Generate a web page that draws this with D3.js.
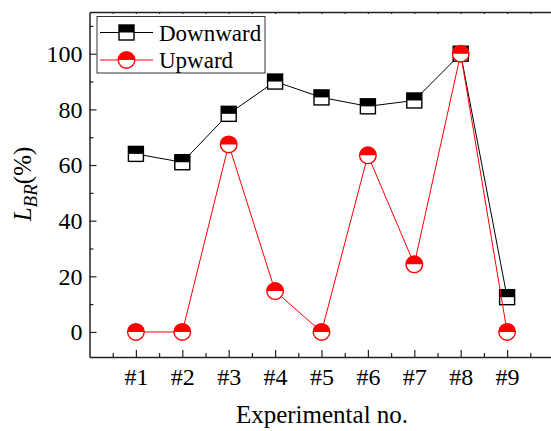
<!DOCTYPE html>
<html><head><meta charset="utf-8">
<script src="https://cdn.jsdelivr.net/npm/d3@7"></script>
<style>body{margin:0;background:#fff}svg{display:block}</style>
</head><body>
<svg id="c" width="551" height="431"></svg>
<script>
const categories = ["#1","#2","#3","#4","#5","#6","#7","#8","#9"];
const downward = [64, 61, 78.4, 90, 84.3, 81.1, 83.2, 100, 12.5];
const upward = [0, 0, 67.4, 14.7, 0, 63.5, 24.3, 100, 0];
const yTicks = [0, 20, 40, 60, 80, 100];
const yMinor = [10, 30, 50, 70, 90, 110];
const seriesNames = ["Downward", "Upward"];

const svg = d3.select("#c");
const L = 89.5, R = 553.5, T = 12, B = 357;
const x = d3.scaleLinear().domain([-1, 9]).range([L, R]);
const y = d3.scaleLinear().domain([-9, 115]).range([B, T]);
const axisColor = "#222";
const serif = "Liberation Serif, Times New Roman, serif";

const xMinor = d3.range(-0.5, 9, 1);
const gx = svg.append("g").attr("transform", `translate(0,${B})`)
  .call(d3.axisBottom(x).tickValues(d3.range(0, 9)).tickFormat(i => categories[i])
    .tickSizeInner(-7).tickSizeOuter(0).tickPadding(11));
svg.append("g").attr("transform", `translate(0,${B})`)
  .call(d3.axisBottom(x).tickValues(xMinor).tickFormat("").tickSizeInner(-4).tickSizeOuter(0))
  .select(".domain").remove();

const gy = svg.append("g").attr("transform", `translate(${L},0)`)
  .call(d3.axisLeft(y).tickValues(yTicks).tickSizeInner(-7).tickSizeOuter(0).tickPadding(7));
svg.append("g").attr("transform", `translate(${L},0)`)
  .call(d3.axisLeft(y).tickValues(yMinor).tickFormat("").tickSizeInner(-4).tickSizeOuter(0))
  .select(".domain").remove();

svg.append("g").attr("transform", `translate(0,${T})`)
  .call(d3.axisTop(x).tickValues(d3.range(-0.5, 9, 0.5)).tickFormat("").tickSizeInner(-2).tickSizeOuter(0));
svg.append("g").attr("transform", `translate(${R},0)`)
  .call(d3.axisRight(y).tickValues(yTicks).tickFormat("").tickSizeInner(-2).tickSizeOuter(0));

svg.selectAll(".domain").attr("stroke", axisColor).attr("stroke-width", 1.5);
svg.selectAll(".tick line").attr("stroke", axisColor).attr("stroke-width", 1.2);

const line = d3.line().x((d, i) => x(i)).y(d => y(d));

function square(g, cx, cy, s, col) {
  g.append("rect").attr("x", cx - s/2).attr("y", cy - s/2).attr("width", s).attr("height", s).attr("fill", "#fff");
  g.append("rect").attr("x", cx - s/2).attr("y", cy - s/2).attr("width", s).attr("height", s/2).attr("fill", col);
  g.append("rect").attr("x", cx - s/2).attr("y", cy - s/2).attr("width", s).attr("height", s)
    .attr("fill", "none").attr("stroke", col).attr("stroke-width", 1.4);
}
function halfCircle(g, cx, cy, r, col) {
  g.append("circle").attr("cx", cx).attr("cy", cy).attr("r", r).attr("fill", "#fff");
  g.append("path").attr("d", `M${cx - r},${cy} A${r},${r} 0 0 1 ${cx + r},${cy} Z`).attr("fill", col);
  g.append("circle").attr("cx", cx).attr("cy", cy).attr("r", r).attr("fill", "none")
    .attr("stroke", col).attr("stroke-width", 1.4);
}

svg.append("path").datum(downward).attr("d", line).attr("fill", "none").attr("stroke", "#000").attr("stroke-width", 1);
const gd = svg.append("g");
downward.forEach((v, i) => square(gd, x(i), y(v), 15, "#000"));

svg.append("path").datum(upward).attr("d", line).attr("fill", "none").attr("stroke", "#ff0000").attr("stroke-width", 1);
const gu = svg.append("g");
upward.forEach((v, i) => halfCircle(gu, x(i), y(v), 8.3, "#ff0000"));

const lg = svg.append("g");
lg.append("rect").attr("x", 97).attr("y", 16.5).attr("width", 168).attr("height", 56.5)
  .attr("fill", "#fff").attr("stroke", "#333").attr("stroke-width", 1);
const rows = [32.5, 60];
lg.append("line").attr("x1", 100).attr("x2", 153).attr("y1", rows[0]).attr("y2", rows[0]).attr("stroke", "#000");
square(lg, 126.5, rows[0], 15, "#000");
lg.append("line").attr("x1", 100).attr("x2", 153).attr("y1", rows[1]).attr("y2", rows[1]).attr("stroke", "#ff0000");
halfCircle(lg, 126.5, rows[1], 8.3, "#ff0000");
seriesNames.forEach((n, k) => {
  lg.append("text").attr("x", 159).attr("y", rows[k] + 8).style("font-size", "23px").text(n);
});

svg.append("text").attr("x", 322).attr("y", 423).attr("text-anchor", "middle")
  .style("font-size", "25px").text("Experimental no.");
const yl = svg.append("text").attr("transform", `translate(31,184) rotate(-90)`)
  .attr("text-anchor", "middle").style("font-size", "25px");
yl.append("tspan").style("font-style", "italic").text("L");
yl.append("tspan").style("font-style", "italic").style("font-size", "19px").attr("dy", 6).text("BR");
yl.append("tspan").attr("dy", -6).text("(%)");

svg.selectAll("text").style("font-family", serif).attr("fill", "#000");
gx.selectAll("text").style("font-size", "24px");
gy.selectAll("text").style("font-size", "24px");
</script>
</body></html>
